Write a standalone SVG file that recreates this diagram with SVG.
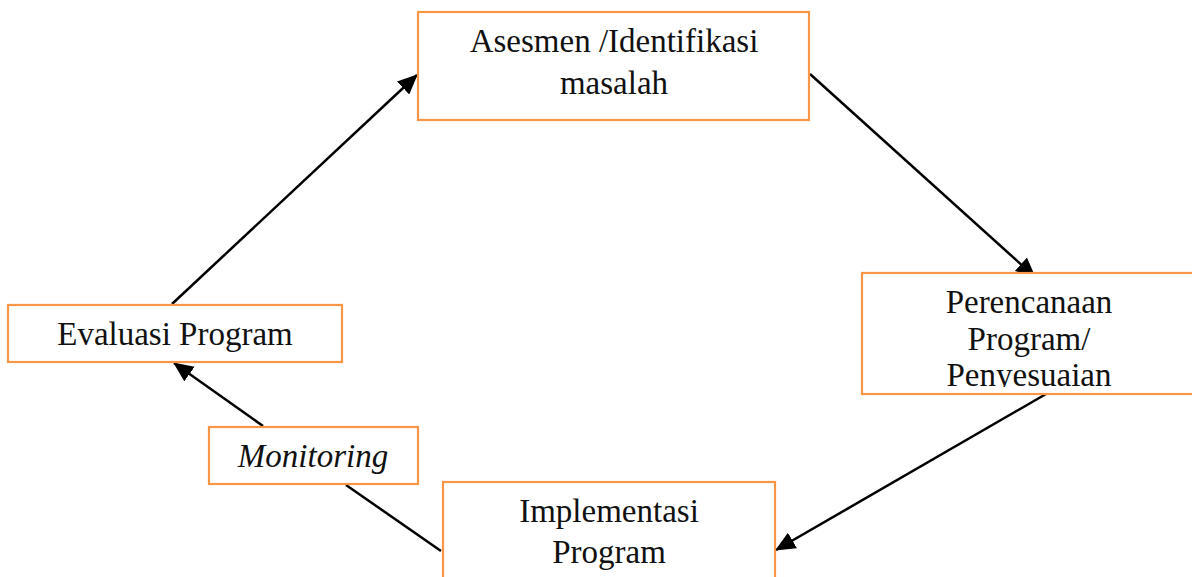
<svg xmlns="http://www.w3.org/2000/svg" width="1192" height="577" viewBox="0 0 1192 577">
  <style>
    .box { fill: #ffffff; stroke: #F79646; stroke-width: 2.2; }
    .t { font-family: "Liberation Serif", "DejaVu Serif", serif; font-size: 33px; fill: #111111; text-anchor: middle; }
    .it { font-style: italic; }
    .edge { stroke: #000000; stroke-width: 2.5; fill: none; }
  </style>
  <defs>
    <marker id="arrow" markerUnits="userSpaceOnUse" markerWidth="20" markerHeight="18" viewBox="0 0 20 18" refX="19" refY="9" orient="auto">
      <path d="M0,0 L20,9 L0,18 Z" fill="#000000"/>
    </marker>
    <clipPath id="clipPlan">
      <rect x="862" y="273" width="340" height="114"/>
    </clipPath>
  </defs>
  <rect width="1192" height="577" fill="#ffffff"/>

  <g id="connectors">
    <line class="edge" x1="172" y1="304" x2="417" y2="75" marker-end="url(#arrow)"/>
    <line class="edge" x1="810" y1="74" x2="1035" y2="277" marker-end="url(#arrow)"/>
    <line class="edge" x1="1046" y1="394" x2="776" y2="550" marker-end="url(#arrow)"/>
    <line class="edge" x1="263" y1="426" x2="174" y2="363" marker-end="url(#arrow)"/>
    <line class="edge" x1="441" y1="551" x2="346" y2="485"/>
  </g>

  <g id="node-asesmen">
    <rect class="box" x="418" y="12" width="391" height="108"/>
    <text class="t" x="614" y="52">Asesmen /Identifikasi</text>
    <text class="t" x="614" y="94">masalah</text>
  </g>

  <g id="node-perencanaan">
    <rect class="box" x="862" y="273" width="340" height="121"/>
    <g clip-path="url(#clipPlan)">
      <text class="t" x="1029" y="313">Perencanaan</text>
      <text class="t" x="1029" y="350">Program/</text>
      <text class="t" x="1029" y="386">Penyesuaian</text>
    </g>
  </g>

  <g id="node-evaluasi">
    <rect class="box" x="8" y="305" width="334" height="57"/>
    <text class="t" x="175" y="345">Evaluasi Program</text>
  </g>

  <g id="node-monitoring">
    <rect class="box" x="209" y="427" width="209" height="57"/>
    <text class="t it" x="313" y="467">Monitoring</text>
  </g>

  <g id="node-implementasi">
    <rect class="box" x="443" y="482" width="332" height="110"/>
    <text class="t" x="609" y="522">Implementasi</text>
    <text class="t" x="609" y="563">Program</text>
  </g>
</svg>
